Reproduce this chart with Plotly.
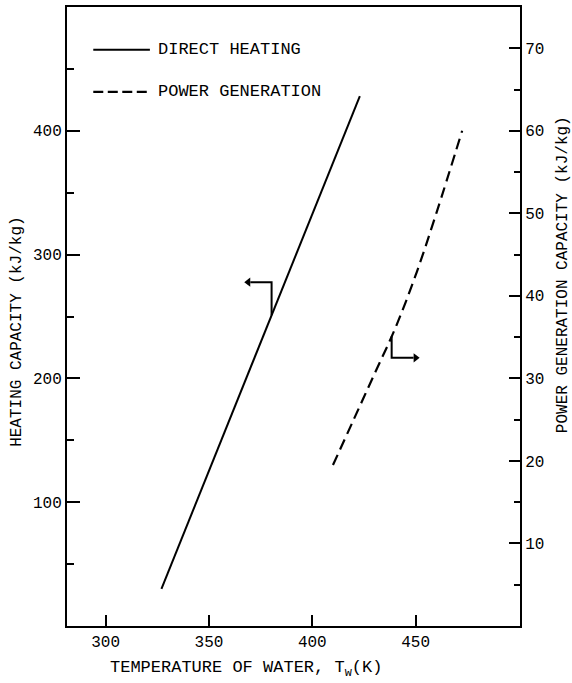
import numpy as np
import plotly.graph_objects as go

# Data
heat_T = [327, 423]                 # K
heat_cap = [30, 428]                # kJ/kg  (left axis)
power_T = [410, 420, 430, 440, 450, 460, 472.5]   # K
power_cap = [19.5, 25, 30.5, 36, 42.5, 50, 60]     # kJ/kg (right axis)

x_ticks = [300, 350, 400, 450]
y_ticks = [100, 200, 300, 400]
y2_ticks = [10, 20, 30, 40, 50, 60, 70]

FONT = "Liberation Mono"
fig = go.Figure()
fig.add_trace(go.Scatter(x=heat_T, y=heat_cap, mode="lines",
                         line=dict(color="black", width=2), name="DIRECT HEATING",
                         showlegend=False))
fig.add_trace(go.Scatter(x=power_T, y=power_cap, mode="lines", yaxis="y2",
                         line=dict(color="black", width=2.2, dash="11px,6px", shape="spline"),
                         name="POWER GENERATION", showlegend=False))

# bracket arrows indicating which axis each curve uses
bx1 = 380.3
by1 = float(np.interp(bx1, heat_T, heat_cap))
fig.add_trace(go.Scatter(x=[bx1, bx1, 370.0], y=[by1, 277.7, 277.7], mode="lines",
                         line=dict(color="black", width=2), showlegend=False,
                         hoverinfo="skip"))
fig.add_trace(go.Scatter(x=[369.0], y=[277.7], mode="markers",
                         marker=dict(symbol="triangle-left", size=8, color="black"),
                         showlegend=False, hoverinfo="skip"))
bx2 = 438.4
by2 = float(np.interp(bx2, power_T, power_cap))
fig.add_trace(go.Scatter(x=[bx2, bx2, 449.0], y=[by2, 32.5, 32.5], mode="lines",
                         yaxis="y2", line=dict(color="black", width=2),
                         showlegend=False, hoverinfo="skip"))
fig.add_trace(go.Scatter(x=[450.0], y=[32.5], mode="markers", yaxis="y2",
                         marker=dict(symbol="triangle-right", size=8, color="black"),
                         showlegend=False, hoverinfo="skip"))

# manual legend
fig.add_shape(type="line", xref="paper", yref="paper", x0=0.058, x1=0.183,
              y0=0.931, y1=0.931, line=dict(color="black", width=2))
fig.add_shape(type="line", xref="paper", yref="paper", x0=0.058, x1=0.183,
              y0=0.863, y1=0.863, line=dict(color="black", width=2.2, dash="10px,4.5px"))
fig.add_annotation(x=0.196, y=0.931, xref="paper", yref="paper", text="DIRECT HEATING",
                   showarrow=False, xanchor="left", yanchor="middle",
                   font=dict(family=FONT, size=17, color="black"))
fig.add_annotation(x=0.196, y=0.863, xref="paper", yref="paper", text="POWER GENERATION",
                   showarrow=False, xanchor="left", yanchor="middle",
                   font=dict(family=FONT, size=17, color="black"))

# axis titles
fig.add_annotation(x=0.091, y=-0.07, xref="paper", yref="paper",
                   text="TEMPERATURE OF WATER, T<sub>w</sub>(K)", showarrow=False,
                   xanchor="left", yanchor="middle",
                   font=dict(family=FONT, size=17, color="black"))
fig.add_annotation(x=-0.112, y=0.2866, xref="paper", yref="paper",
                   text="HEATING CAPACITY (kJ/kg)", showarrow=False, textangle=-90,
                   xanchor="center", yanchor="bottom",
                   font=dict(family=FONT, size=16, color="black"))
fig.add_annotation(x=1.095, y=0.3076, xref="paper", yref="paper",
                   text="POWER GENERATION CAPACITY (kJ/kg)", showarrow=False, textangle=-90,
                   xanchor="center", yanchor="bottom",
                   font=dict(family=FONT, size=16, color="black"))

axis_font = dict(family=FONT, size=16, color="black")
fig.update_layout(
    width=572, height=683,
    margin=dict(l=67, r=52, t=5, b=57),
    paper_bgcolor="white", plot_bgcolor="white",
    font=axis_font,
    xaxis=dict(range=[281.3, 500.5], tickvals=x_ticks, ticks="inside", ticklen=11,
               tickwidth=2, tickcolor="black", showline=True, linewidth=2,
               linecolor="black", mirror=True, showgrid=False, zeroline=False,
               tickfont=axis_font),
    yaxis=dict(range=[0, 500], tickvals=y_ticks, ticks="inside", ticklen=13,
               tickwidth=2, tickcolor="black", showline=True, linewidth=2,
               linecolor="black", showgrid=False, zeroline=False, tickfont=axis_font,
               minor=dict(tick0=0, dtick=50, ticks="inside", ticklen=7, tickwidth=2,
                          tickcolor="black", showgrid=False)),
    yaxis2=dict(range=[0, 75], tickvals=y2_ticks, ticks="inside", ticklen=11,
                tickwidth=2, tickcolor="black", showline=True, linewidth=2,
                linecolor="black", showgrid=False, zeroline=False, tickfont=axis_font,
                overlaying="y", side="right", anchor="x",
                minor=dict(tick0=0, dtick=5, ticks="inside", ticklen=6, tickwidth=2,
                           tickcolor="black", showgrid=False)),
)
fig.write_html("out.html")
